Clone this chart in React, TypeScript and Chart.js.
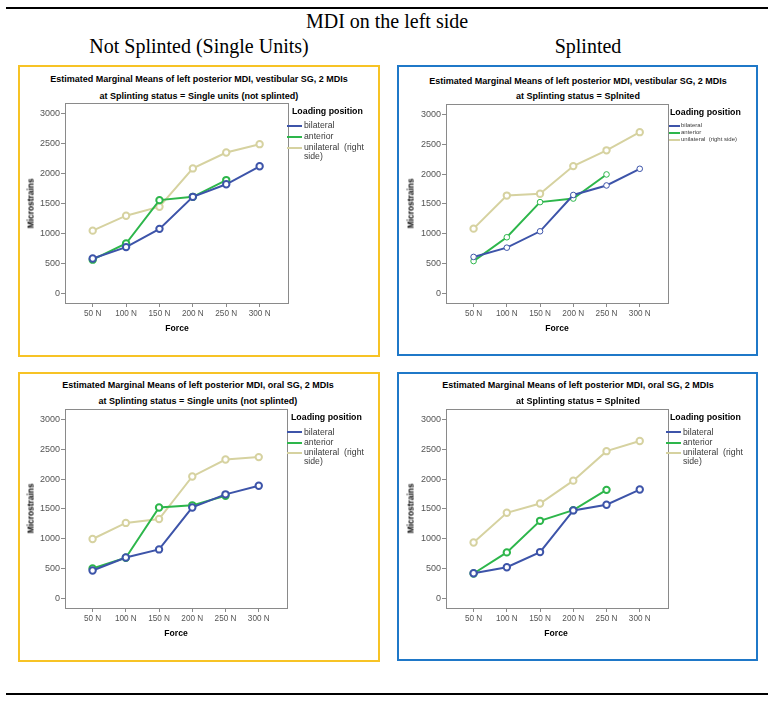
import React, { useEffect, useRef } from 'react';
import { Chart, registerables } from 'chart.js';

Chart.register(...registerables);

// ---------- data ----------
const forceLabels = ['50 N', '100 N', '150 N', '200 N', '250 N', '300 N'];
const yTickValues = [0, 500, 1000, 1500, 2000, 2500, 3000];
const seriesNames = ['bilateral', 'anterior', 'unilateral  (right side)'];

const vestSingleBilateral = [580, 770, 1075, 1610, 1820, 2120];
const vestSingleAnterior = [560, 830, 1555, 1610, 1890];
const vestSingleUnilateral = [1045, 1295, 1445, 2085, 2350, 2490];

const vestSplintBilateral = [610, 765, 1040, 1650, 1810, 2090];
const vestSplintAnterior = [540, 940, 1530, 1590, 1995];
const vestSplintUnilateral = [1085, 1640, 1670, 2135, 2400, 2705];

const oralSingleBilateral = [465, 685, 820, 1525, 1745, 1890];
const oralSingleAnterior = [500, 680, 1525, 1560, 1720];
const oralSingleUnilateral = [995, 1265, 1330, 2045, 2330, 2370];

const oralSplintBilateral = [420, 520, 775, 1475, 1570, 1825];
const oralSplintAnterior = [415, 770, 1300, 1480, 1820];
const oralSplintUnilateral = [935, 1435, 1590, 1975, 2470, 2640];

// ---------- styles ----------
const BLUE = '#3d54a9';
const GREEN = '#2db64b';
const TAN = '#d6d2a0';
const YELLOW_BOX = '#f7c325';
const BLUE_BOX = '#1f78c8';
const SANS = '"Liberation Sans", Arial, sans-serif';
const SERIF = '"Liberation Serif", "Times New Roman", serif';

const Y_MIN = -164;
const Y_MAX = 3178;
const X_MIN = -0.83;
const X_MAX = 5.85;

const YW = 40; // y axis width inside canvas
const PT = 10; // top padding
const PR = 14; // right padding
const XH = 22; // x axis height

const framePlugin = {
  id: 'frame',
  beforeDatasetsDraw(chart: any) {
    const { ctx, chartArea } = chart;
    ctx.save();
    ctx.strokeStyle = '#8a8a8a';
    ctx.lineWidth = 1;
    ctx.strokeRect(
      Math.round(chartArea.left) + 0.5,
      Math.round(chartArea.top) + 0.5,
      Math.round(chartArea.right - chartArea.left),
      Math.round(chartArea.bottom - chartArea.top)
    );
    ctx.restore();
  },
};

type Plot = { l: number; t: number; r: number; b: number };

function PlotCanvas(props: {
  plot: Plot;
  bilateral: number[];
  anterior: number[];
  unilateral: number[];
  thin?: boolean;
}) {
  const ref = useRef<HTMLCanvasElement>(null);
  const { plot } = props;
  const w = plot.r - plot.l + YW + PR;
  const h = plot.b - plot.t + PT + XH;
  useEffect(() => {
    const pts = (arr: number[]) => arr.map((v, i) => ({ x: i, y: v }));
    const mk = (label: string, arr: number[], color: string, thinMarker: boolean) => ({
      label,
      data: pts(arr),
      borderColor: color,
      backgroundColor: '#ffffff',
      borderWidth: 2,
      pointRadius: thinMarker ? 2.8 : 3.2,
      pointBorderWidth: thinMarker ? 1 : 2,
      pointBackgroundColor: '#ffffff',
      pointBorderColor: color,
      tension: 0,
      fill: false,
    });
    const thin = !!props.thin;
    const chart = new Chart(ref.current as HTMLCanvasElement, {
      type: 'line',
      data: {
        datasets: [
          mk(seriesNames[0], props.bilateral, BLUE, thin),
          mk(seriesNames[1], props.anterior, GREEN, thin),
          mk(seriesNames[2], props.unilateral, TAN, false),
        ],
      },
      options: {
        animation: false,
        responsive: false,
        maintainAspectRatio: false,
        layout: { padding: { top: PT, right: PR, left: 0, bottom: 0 } },
        plugins: {
          legend: { display: false },
          tooltip: { enabled: false },
          title: { display: false },
        },
        scales: {
          x: {
            type: 'linear',
            min: X_MIN,
            max: X_MAX,
            afterBuildTicks: (s: any) => {
              s.ticks = forceLabels.map((_, i) => ({ value: i }));
            },
            afterFit: (s: any) => {
              s.height = XH;
            },
            ticks: {
              callback: (v: any) => forceLabels[Math.round(Number(v))] ?? '',
              font: { family: SANS, size: 8.2 },
              color: '#555555',
              padding: 2,
              maxRotation: 0,
              autoSkip: false,
            },
            grid: {
              display: true,
              drawOnChartArea: false,
              drawTicks: true,
              tickLength: 4,
              color: '#8a8a8a',
            },
            border: { display: false },
          },
          y: {
            type: 'linear',
            min: Y_MIN,
            max: Y_MAX,
            afterBuildTicks: (s: any) => {
              s.ticks = yTickValues.map((v) => ({ value: v }));
            },
            afterFit: (s: any) => {
              s.width = YW;
            },
            ticks: {
              callback: (v: any) => String(v),
              font: { family: SANS, size: 9 },
              color: '#555555',
              padding: 1,
            },
            grid: {
              display: true,
              drawOnChartArea: false,
              drawTicks: true,
              tickLength: 4,
              color: '#8a8a8a',
            },
            border: { display: false },
          },
        },
      } as any,
      plugins: [framePlugin],
    });
    return () => chart.destroy();
  }, []);
  return (
    <canvas
      ref={ref}
      width={w}
      height={h}
      style={{ position: 'absolute', left: plot.l - YW, top: plot.t - PT, width: w, height: h }}
    />
  );
}

type Legend = {
  titleX: number;
  titleY: number;
  lineX: number;
  lineW: number;
  textX: number;
  ys: number[];
  size: number;
  wrap: boolean;
};

type PanelCfg = {
  box: { l: number; t: number; w: number; h: number; color: string };
  plot: Plot;
  titleCx: number;
  titleYs: number[];
  titles: string[];
  yLab: { cx: number; cy: number };
  xLab: { cx: number; cy: number };
  legend: Legend;
  bilateral: number[];
  anterior: number[];
  unilateral: number[];
  thin?: boolean;
};

function CText(props: { cx?: number; x?: number; cy: number; size: number; bold?: boolean; color?: string; children: any; rotate?: boolean; family?: string }) {
  const lh = props.size * 1.3;
  const style: any = {
    position: 'absolute',
    top: props.cy - lh / 2,
    lineHeight: lh + 'px',
    height: lh,
    fontSize: props.size,
    fontFamily: props.family || SANS,
    fontWeight: props.bold ? 'bold' : 'normal',
    color: props.color || '#000',
    whiteSpace: 'pre',
  };
  if (props.cx !== undefined) {
    style.left = props.cx;
    style.transform = props.rotate ? 'translateX(-50%) rotate(-90deg)' : 'translateX(-50%)';
  } else {
    style.left = props.x;
  }
  return <div style={style}>{props.children}</div>;
}

function Panel({ cfg }: { cfg: PanelCfg }) {
  const { box, legend } = cfg;
  const colors = [BLUE, GREEN, TAN];
  const legendTexts = legend.wrap ? ['bilateral', 'anterior', 'unilateral  (right', 'side)'] : ['bilateral', 'anterior', seriesNames[2]];
  return (
    <>
      <div
        style={{
          position: 'absolute',
          left: box.l,
          top: box.t,
          width: box.w,
          height: box.h,
          border: `2px solid ${box.color}`,
          boxSizing: 'border-box',
        }}
      />
      {cfg.titles.map((t, i) => (
        <CText key={'t' + i} cx={cfg.titleCx} cy={cfg.titleYs[i]} size={9} bold>
          {t}
        </CText>
      ))}
      <PlotCanvas plot={cfg.plot} bilateral={cfg.bilateral} anterior={cfg.anterior} unilateral={cfg.unilateral} thin={cfg.thin} />
      <CText cx={cfg.yLab.cx} cy={cfg.yLab.cy} size={8.4} bold rotate>
        Microstrains
      </CText>
      <CText cx={cfg.xLab.cx} cy={cfg.xLab.cy} size={8.6} bold>
        Force
      </CText>
      <CText x={legend.titleX} cy={legend.titleY} size={8.8} bold>
        Loading position
      </CText>
      {legendTexts.map((t, i) => (
        <React.Fragment key={'l' + i}>
          {i < 3 && (
            <div
              style={{
                position: 'absolute',
                left: legend.lineX,
                top: legend.ys[i] - 1,
                width: legend.lineW,
                height: 2,
                background: colors[i],
              }}
            />
          )}
          <CText x={legend.textX} cy={legend.ys[i]} size={legend.size} color="#3a3a3a">
            {t}
          </CText>
        </React.Fragment>
      ))}
    </>
  );
}

const vestTitle = 'Estimated Marginal Means of left posterior MDI, vestibular SG, 2 MDIs';
const oralTitle = 'Estimated Marginal Means of left posterior MDI, oral SG, 2 MDIs';
const singleSub = 'at Splinting status = Single units (not splinted)';
const splintSub = 'at Splinting status = Splnited';

const panels: PanelCfg[] = [
  {
    box: { l: 18, t: 65, w: 362, h: 292, color: YELLOW_BOX },
    plot: { l: 65, t: 103, r: 288, b: 303 },
    titleCx: 199,
    titleYs: [80, 96.7],
    titles: [vestTitle, singleSub],
    yLab: { cx: 31, cy: 203 },
    xLab: { cx: 177, cy: 329 },
    legend: { titleX: 292, titleY: 112, lineX: 287, lineW: 15, textX: 304, ys: [126, 137, 148, 157], size: 8.7, wrap: true },
    bilateral: vestSingleBilateral,
    anterior: vestSingleAnterior,
    unilateral: vestSingleUnilateral,
  },
  {
    box: { l: 397, t: 65, w: 361, h: 291, color: BLUE_BOX },
    plot: { l: 446, t: 104, r: 668, b: 303 },
    titleCx: 578,
    titleYs: [81.5, 97.3],
    titles: [vestTitle, splintSub],
    yLab: { cx: 411, cy: 203 },
    xLab: { cx: 557, cy: 329 },
    legend: { titleX: 670, titleY: 113, lineX: 669, lineW: 11, textX: 681, ys: [126, 132.7, 140.3], size: 6, wrap: false },
    bilateral: vestSplintBilateral,
    anterior: vestSplintAnterior,
    unilateral: vestSplintUnilateral,
    thin: true,
  },
  {
    box: { l: 18, t: 372, w: 362, h: 290, color: YELLOW_BOX },
    plot: { l: 65, t: 409, r: 287, b: 608 },
    titleCx: 198,
    titleYs: [386, 402],
    titles: [oralTitle, singleSub],
    yLab: { cx: 31, cy: 508.5 },
    xLab: { cx: 176, cy: 634 },
    legend: { titleX: 291, titleY: 417.7, lineX: 287, lineW: 15, textX: 304, ys: [432.3, 442.7, 453, 462], size: 8.7, wrap: true },
    bilateral: oralSingleBilateral,
    anterior: oralSingleAnterior,
    unilateral: oralSingleUnilateral,
  },
  {
    box: { l: 397, t: 372, w: 361, h: 289, color: BLUE_BOX },
    plot: { l: 446, t: 409, r: 668, b: 608 },
    titleCx: 578,
    titleYs: [386, 402],
    titles: [oralTitle, splintSub],
    yLab: { cx: 411, cy: 508 },
    xLab: { cx: 556, cy: 634 },
    legend: { titleX: 670, titleY: 417.7, lineX: 666, lineW: 15, textX: 683, ys: [432.3, 442.7, 453, 462], size: 8.7, wrap: true },
    bilateral: oralSplintBilateral,
    anterior: oralSplintAnterior,
    unilateral: oralSplintUnilateral,
  },
];

export default function App() {
  return (
    <div
      style={{
        position: 'absolute',
        left: 0,
        top: 0,
        width: 774,
        height: 704,
        background: '#ffffff',
        overflow: 'hidden',
      }}
    >
      <div style={{ position: 'absolute', left: 6, top: 7, width: 762, height: 2, background: '#000' }} />
      <CText cx={387} cy={21} size={20} family={SERIF}>
        MDI on the left side
      </CText>
      <CText cx={199} cy={46} size={20} family={SERIF}>
        Not Splinted (Single Units)
      </CText>
      <CText cx={588} cy={46} size={20} family={SERIF}>
        Splinted
      </CText>
      {panels.map((p, i) => (
        <Panel key={i} cfg={p} />
      ))}
      <div style={{ position: 'absolute', left: 6, top: 693, width: 762, height: 2, background: '#000' }} />
    </div>
  );
}
